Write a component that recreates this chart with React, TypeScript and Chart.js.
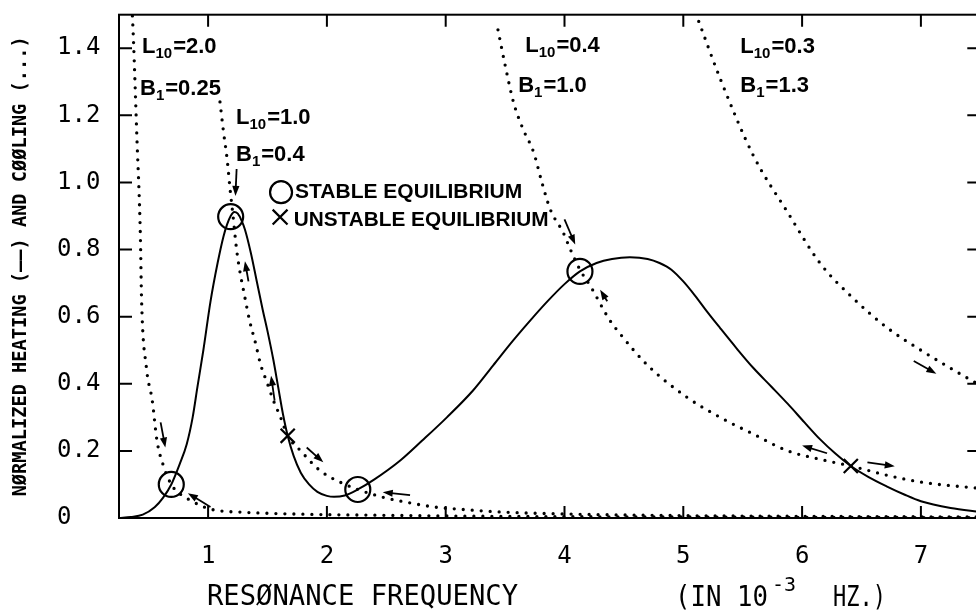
import React, { useEffect, useRef } from "react";
import { Chart, registerables } from "chart.js";

Chart.register(...registerables);

// Axis ranges and ticks
const xMin = 0.25;
const xMax = 7.5;
const yMin = 0;
const yMax = 1.5;
const xTickValues = [1, 2, 3, 4, 5, 6, 7];
const yTickValues = [0, 0.2, 0.4, 0.6, 0.8, 1.0, 1.2, 1.4];

// Heating curve (solid)
const heatX = [0.25, 0.35, 0.45, 0.55, 0.62, 0.69, 0.76, 0.82, 0.87, 0.91, 0.96, 1.02, 1.08, 1.13, 1.16, 1.19, 1.22, 1.25, 1.28, 1.31, 1.36, 1.41, 1.46, 1.5, 1.55, 1.59, 1.63, 1.67, 1.72, 1.78, 1.85, 1.92, 2.0, 2.06, 2.15, 2.26, 2.4, 2.62, 2.8, 3.01, 3.23, 3.4, 3.57, 3.72, 3.86, 4.0, 4.13, 4.27, 4.4, 4.55, 4.7, 4.8, 4.9, 5.0, 5.1, 5.2, 5.31, 5.45, 5.59, 5.74, 5.88, 6.02, 6.15, 6.28, 6.41, 6.56, 6.72, 6.86, 7.0, 7.25, 7.5];
const heatY = [0, 0.003, 0.01, 0.032, 0.06, 0.1, 0.16, 0.22, 0.3, 0.39, 0.5, 0.645, 0.76, 0.84, 0.875, 0.9, 0.912, 0.907, 0.888, 0.86, 0.79, 0.705, 0.62, 0.557, 0.47, 0.39, 0.31, 0.245, 0.185, 0.135, 0.1, 0.078, 0.066, 0.063, 0.067, 0.085, 0.115, 0.172, 0.23, 0.3, 0.38, 0.455, 0.53, 0.592, 0.647, 0.697, 0.735, 0.76, 0.772, 0.777, 0.772, 0.76, 0.74, 0.705, 0.662, 0.615, 0.566, 0.505, 0.447, 0.392, 0.34, 0.285, 0.235, 0.192, 0.155, 0.122, 0.093, 0.07, 0.05, 0.03, 0.018];

// Cooling curves (dotted)
const coolAX = [0.355, 0.37, 0.4, 0.43, 0.44, 0.48, 0.53, 0.57, 0.62, 0.69, 0.77, 0.85, 0.95, 1.05, 1.3, 1.6, 2.0, 2.5, 3.0, 4.0, 5.0, 6.0, 7.5];
const coolAY = [1.55, 1.44, 1.14, 0.84, 0.65, 0.45, 0.35, 0.23, 0.16, 0.1, 0.07, 0.053, 0.035, 0.024, 0.017, 0.013, 0.01, 0.008, 0.006, 0.004, 0.003, 0.002, 0.001];
const coolBX = [1.1, 1.13, 1.16, 1.185, 1.21, 1.24, 1.27, 1.3, 1.35, 1.4, 1.44, 1.5, 1.55, 1.61, 1.67, 1.78, 1.94, 2.11, 2.26, 2.47, 2.7, 2.9, 3.2, 3.46, 4.0, 5.0, 6.0, 7.5];
const coolBY = [1.24, 1.15, 1.07, 0.98, 0.9, 0.8, 0.73, 0.675, 0.587, 0.52, 0.46, 0.4, 0.35, 0.3, 0.245, 0.2, 0.142, 0.107, 0.085, 0.062, 0.045, 0.033, 0.024, 0.018, 0.012, 0.007, 0.005, 0.003];
const coolCX = [3.44, 3.5, 3.57, 3.65, 3.74, 3.81, 3.88, 3.99, 4.05, 4.13, 4.22, 4.38, 4.47, 4.7, 5.03, 5.31, 5.59, 5.88, 6.15, 6.41, 6.72, 7.0, 7.5];
const coolCY = [1.455, 1.35, 1.24, 1.16, 1.09, 1.0, 0.92, 0.85, 0.8, 0.74, 0.69, 0.59, 0.548, 0.455, 0.36, 0.3, 0.25, 0.2, 0.175, 0.155, 0.127, 0.107, 0.088];
const coolDX = [5.13, 5.31, 5.59, 5.88, 6.15, 6.43, 6.72, 7.0, 7.28, 7.5];
const coolDY = [1.48, 1.31, 1.08, 0.91, 0.76, 0.655, 0.566, 0.5, 0.44, 0.395];

// Equilibria
const stableX = [0.69, 1.19, 2.26, 4.13];
const stableY = [0.1, 0.898, 0.085, 0.735];
const unstableX = [1.67, 6.41];
const unstableY = [0.245, 0.155];

// Legend markers (data coords)
const legendCircleX = [1.614];
const legendCircleY = [0.971];
const legendCrossX = [1.606];
const legendCrossY = [0.897];
const legendText = ["STABLE EQUILIBRIUM", "UNSTABLE EQUILIBRIUM"];
const legendTextX = [1.732, 1.72];
const legendTextY = [0.953, 0.87];
const legendTextW = [228, 255];

// Curve labels
const labelMain = ["L", "B", "L", "B", "L", "B", "L", "B"];
const labelSub = ["10", "1", "10", "1", "10", "1", "10", "1"];
const labelRest = ["=2.0", "=0.25", "=1.0", "=0.4", "=0.4", "=1.0", "=0.3", "=1.3"];
const labelX = [0.444, 0.427, 1.235, 1.235, 3.67, 3.61, 5.48, 5.48];
const labelY = [1.387, 1.262, 1.173, 1.063, 1.39, 1.271, 1.387, 1.271];

// Arrows (tail -> head, data coords)
const arrowX0 = [0.6, 1.02, 1.24, 1.34, 1.56, 1.83, 2.7, 4.0, 4.36, 6.21, 6.55, 6.94];
const arrowY0 = [0.285, 0.033, 1.04, 0.705, 0.35, 0.21, 0.068, 0.89, 0.646, 0.193, 0.166, 0.468];
const arrowX1 = [0.64, 0.83, 1.23, 1.31, 1.53, 1.97, 2.47, 4.09, 4.3, 6.0, 6.78, 7.13];
const arrowY1 = [0.21, 0.074, 0.96, 0.765, 0.424, 0.166, 0.077, 0.815, 0.68, 0.216, 0.154, 0.43];

const yTitle = "NØRMALIZED HEATING (——) AND CØØLING (...)";
const xTitle = "RESØNANCE FREQUENCY";

const pts = (xs: number[], ys: number[]) => xs.map((x, i) => ({ x, y: ys[i] }));

function drawArrow(ctx: CanvasRenderingContext2D, x0: number, y0: number, x1: number, y1: number) {
  const ang = Math.atan2(y1 - y0, x1 - x0);
  const hl = 10;
  const hw = 3.6;
  ctx.beginPath();
  ctx.moveTo(x0, y0);
  ctx.lineTo(x1 - Math.cos(ang) * hl * 0.6, y1 - Math.sin(ang) * hl * 0.6);
  ctx.lineWidth = 1.8;
  ctx.stroke();
  ctx.beginPath();
  ctx.moveTo(x1, y1);
  ctx.lineTo(x1 - Math.cos(ang) * hl - Math.sin(ang) * hw, y1 - Math.sin(ang) * hl + Math.cos(ang) * hw);
  ctx.lineTo(x1 - Math.cos(ang) * hl + Math.sin(ang) * hw, y1 - Math.sin(ang) * hl - Math.cos(ang) * hw);
  ctx.closePath();
  ctx.fill();
}

const decorPlugin = {
  id: "decor",
  afterDatasetsDraw(chart: any) {
    const { ctx, chartArea: a, scales } = chart;
    const xs = scales.x;
    const ys = scales.y;
    ctx.save();
    ctx.strokeStyle = "#000";
    ctx.fillStyle = "#000";
    ctx.lineWidth = 2;
    ctx.strokeRect(a.left, a.top, a.right - a.left, a.bottom - a.top);
    ctx.beginPath();
    xTickValues.forEach((v) => {
      const px = xs.getPixelForValue(v);
      ctx.moveTo(px, a.bottom);
      ctx.lineTo(px, a.bottom - 12);
      ctx.moveTo(px, a.top);
      ctx.lineTo(px, a.top + 12);
    });
    yTickValues.forEach((v) => {
      const py = ys.getPixelForValue(v);
      ctx.moveTo(a.left, py);
      ctx.lineTo(a.left + 13, py);
      ctx.moveTo(a.right, py);
      ctx.lineTo(a.right - 13, py);
    });
    ctx.stroke();

    arrowX0.forEach((_, i) => {
      drawArrow(
        ctx,
        xs.getPixelForValue(arrowX0[i]),
        ys.getPixelForValue(arrowY0[i]),
        xs.getPixelForValue(arrowX1[i]),
        ys.getPixelForValue(arrowY1[i])
      );
    });

    ctx.textBaseline = "alphabetic";
    ctx.textAlign = "left";
    labelMain.forEach((m, i) => {
      let px = xs.getPixelForValue(labelX[i]);
      const py = ys.getPixelForValue(labelY[i]);
      ctx.font = "bold 22px 'Liberation Sans'";
      ctx.fillText(m, px, py);
      px += ctx.measureText(m).width;
      ctx.font = "bold 15px 'Liberation Sans'";
      ctx.fillText(labelSub[i], px, py + 5);
      px += ctx.measureText(labelSub[i]).width + 1;
      ctx.font = "bold 22px 'Liberation Sans'";
      ctx.fillText(labelRest[i], px, py);
    });

    ctx.font = "bold 21px 'Liberation Sans'";
    legendText.forEach((t, i) => {
      ctx.fillText(t, xs.getPixelForValue(legendTextX[i]), ys.getPixelForValue(legendTextY[i]), legendTextW[i]);
    });

    ctx.save();
    ctx.translate(21, (a.top + a.bottom) / 2);
    ctx.rotate(-Math.PI / 2);
    ctx.textAlign = "center";
    ctx.textBaseline = "middle";
    ctx.font = "bold 19px 'DejaVu Sans Mono'";
    ctx.fillText(yTitle, 0, 0, 460);
    ctx.restore();

    ctx.font = "29px 'DejaVu Sans Mono'";
    ctx.fillText(xTitle, 207, 605, 311);
    ctx.fillText("(IN 10", 675, 606, 93);
    ctx.fillText("HZ.)", 833, 606, 53);
    ctx.font = "20px 'DejaVu Sans Mono'";
    ctx.fillText("-3", 772, 591, 28);
    ctx.restore();
  },
};

export default function App() {
  const ref = useRef<HTMLCanvasElement | null>(null);
  useEffect(() => {
    if (!ref.current) return;
    const dotted = {
      type: "line" as const,
      borderColor: "#000",
      borderWidth: 3.3,
      borderDash: [0, 9],
      borderCapStyle: "round" as const,
      pointRadius: 0,
      fill: false,
      cubicInterpolationMode: "monotone" as const,
    };
    const chart = new Chart(ref.current, {
      type: "scatter",
      data: {
        datasets: [
          {
            type: "line",
            data: pts(heatX, heatY),
            borderColor: "#000",
            borderWidth: 2,
            pointRadius: 0,
            fill: false,
            cubicInterpolationMode: "monotone",
          } as any,
          { ...dotted, data: pts(coolAX, coolAY) } as any,
          { ...dotted, data: pts(coolBX, coolBY) } as any,
          { ...dotted, data: pts(coolCX, coolCY) } as any,
          { ...dotted, data: pts(coolDX, coolDY) } as any,
          {
            data: pts(stableX, stableY),
            pointStyle: "circle",
            pointRadius: 12.5,
            pointBorderWidth: 2.2,
            pointBorderColor: "#000",
            pointBackgroundColor: "rgba(0,0,0,0)",
          } as any,
          {
            data: pts(unstableX, unstableY),
            pointStyle: "crossRot",
            pointRadius: 10,
            pointBorderWidth: 2.2,
            pointBorderColor: "#000",
          } as any,
          {
            data: pts(legendCircleX, legendCircleY),
            pointStyle: "circle",
            pointRadius: 11,
            pointBorderWidth: 2.2,
            pointBorderColor: "#000",
            pointBackgroundColor: "rgba(0,0,0,0)",
          } as any,
          {
            data: pts(legendCrossX, legendCrossY),
            pointStyle: "crossRot",
            pointRadius: 10.5,
            pointBorderWidth: 2.2,
            pointBorderColor: "#000",
          } as any,
        ],
      },
      options: {
        animation: false,
        responsive: false,
        maintainAspectRatio: false,
        events: [],
        layout: { padding: { left: 57, top: 13, right: 5, bottom: 0 } },
        plugins: { legend: { display: false }, tooltip: { enabled: false } },
        scales: {
          x: {
            type: "linear",
            min: xMin,
            max: xMax,
            grid: { display: false, drawTicks: false },
            border: { display: false },
            afterBuildTicks: (s: any) => {
              s.ticks = xTickValues.map((v) => ({ value: v }));
            },
            afterFit: (s: any) => {
              s.height = 92;
              s.paddingLeft = 0;
              s.paddingRight = 0;
            },
            ticks: {
              color: "#000",
              padding: 24,
              maxRotation: 0,
              font: { family: "'DejaVu Sans Mono'", size: 24 },
              callback: (v: any) => String(v),
            },
          },
          y: {
            type: "linear",
            min: yMin,
            max: yMax,
            grid: { display: false, drawTicks: false },
            border: { display: false },
            afterBuildTicks: (s: any) => {
              s.ticks = yTickValues.map((v) => ({ value: v }));
            },
            afterFit: (s: any) => {
              s.width = 62;
              s.paddingTop = 0;
              s.paddingBottom = 0;
            },
            ticks: {
              color: "#000",
              padding: 19,
              crossAlign: "far",
              font: { family: "'DejaVu Sans Mono'", size: 24 },
              callback: (v: any) => (Number(v) === 0 ? "0" : Number(v).toFixed(1)),
            },
          },
        },
      },
      plugins: [decorPlugin],
    } as any);
    return () => chart.destroy();
  }, []);

  return (
    <div
      style={{
        position: "fixed",
        left: 0,
        top: 0,
        width: 976,
        height: 610,
        overflow: "hidden",
        background: "#fff",
      }}
    >
      <canvas ref={ref} width={995} height={610} style={{ width: 995, height: 610, display: "block" }} />
    </div>
  );
}
